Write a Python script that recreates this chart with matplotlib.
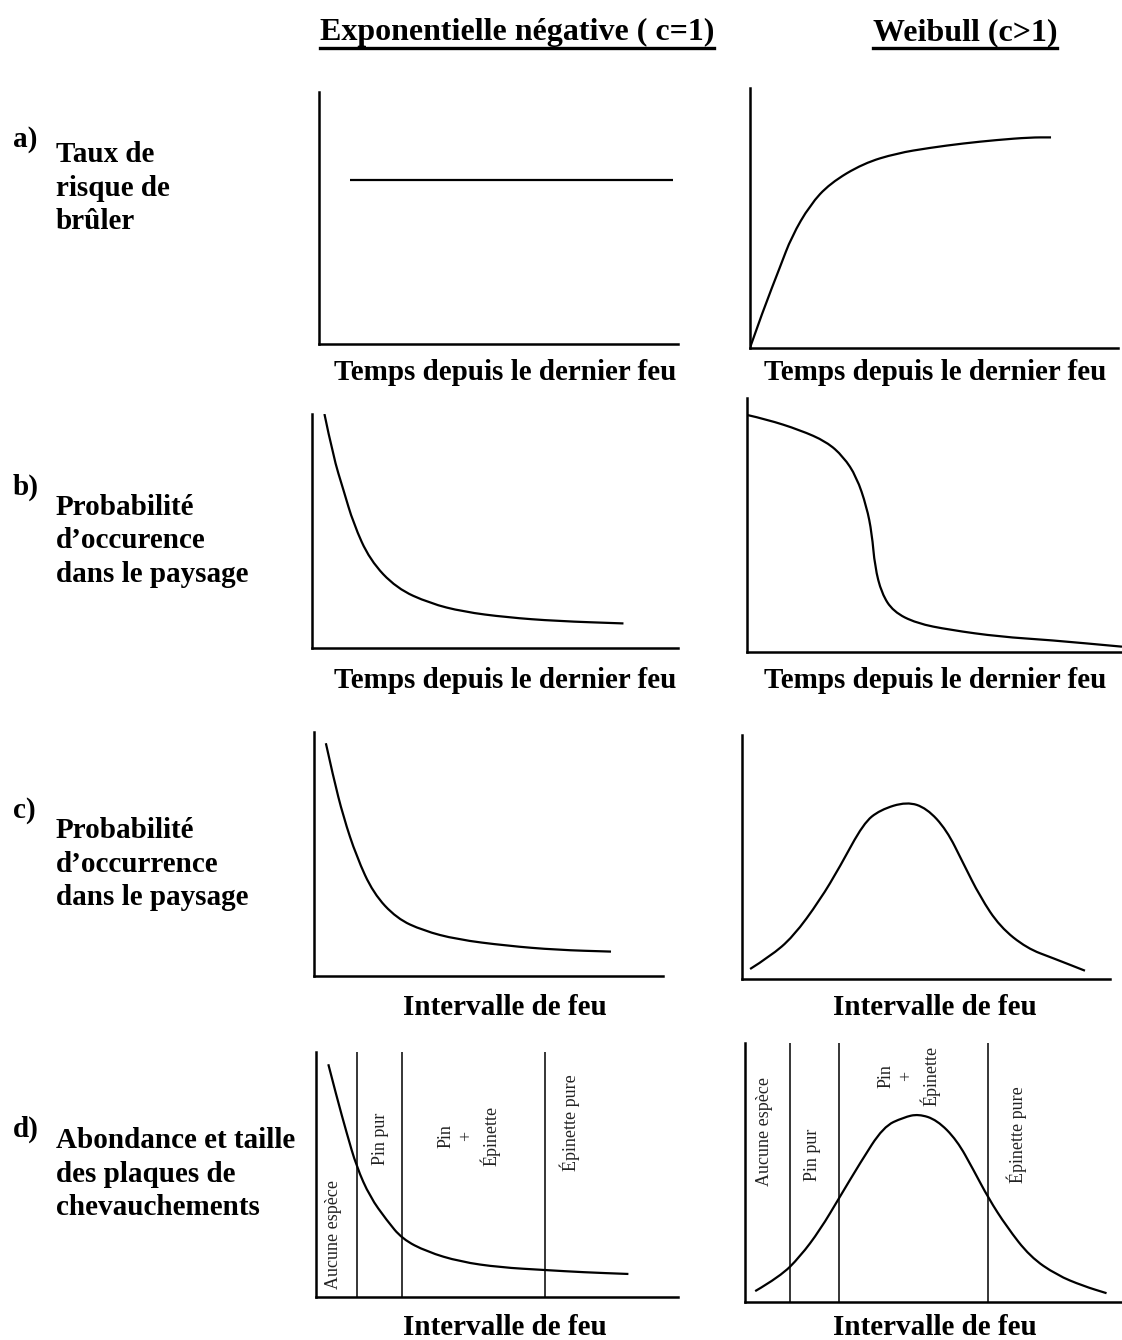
import matplotlib
matplotlib.use("Agg")
import matplotlib.pyplot as plt
from matplotlib.lines import Line2D
from matplotlib.path import Path
from matplotlib.patches import PathPatch

# Figure de 1122 x 1340 pixels
W, H = 1122, 1340
DPI = 100

plt.rcParams['font.family'] = ['Liberation Serif', 'DejaVu Serif']

# ---------------- données (unités arbitraires, 0-100) ----------------
# a) taux de risque de brûler
a_exp_x = [8.6, 98.6]
a_exp_y = [65.1, 65.1]
a_wei_x = [0.0, 3.6, 8.2, 11.3, 16.3, 21.7, 30.8, 39.9, 48.9, 58.0, 67.0, 76.1, 81.8]
a_wei_y = [0.1, 14.6, 31.3, 42.8, 55.0, 63.3, 71.0, 74.9, 77.0, 78.7, 80.0, 81.0, 81.0]

# b) probabilité d'occurence selon le temps depuis le dernier feu
b_exp_x = [3.4, 5.8, 8.6, 11.3, 15.8, 23.1, 32.2, 41.3, 53.2, 66.9, 85.1]
b_exp_y = [100.0, 81.8, 67.5, 53.3, 37.6, 25.5, 19.1, 15.5, 13.1, 11.5, 10.5]
b_wei_x = [0.1, 5.2, 14.1, 21.2, 25.7, 29.2, 31.9, 33.3, 34.1, 35.9, 39.0, 45.2, 54.1, 67.5, 80.8, 100.0]
b_wei_y = [93.3, 91.6, 87.4, 82.8, 76.9, 69.0, 57.2, 46.7, 33.6, 23.1, 15.9, 11.3, 8.7, 6.0, 4.7, 2.1]

# c) probabilité d'occurrence selon l'intervalle de feu
c_exp_x = [3.4, 5.5, 8.4, 12.2, 17.0, 23.7, 31.3, 40.9, 55.2, 69.5, 85.1]
c_exp_y = [95.4, 81.7, 65.3, 48.9, 33.9, 23.6, 18.6, 15.0, 12.4, 10.7, 10.0]
c_wei_x = [2.2, 7.6, 13.9, 21.2, 26.6, 33.0, 37.5, 44.8, 50.2, 55.6, 60.1, 64.7, 70.1, 77.4, 84.6, 93.2]
c_wei_y = [4.1, 9.2, 17.3, 32.4, 46.0, 63.8, 69.3, 72.7, 70.0, 61.1, 47.5, 33.7, 21.4, 12.6, 8.5, 3.4]

# d) abondance et taille des plaques
d_exp_x = [3.4, 5.7, 8.5, 11.2, 14.9, 19.5, 23.8, 30.6, 39.8, 50.8, 63.3, 73.8, 86.3]
d_exp_y = [95.0, 81.8, 66.8, 53.2, 40.9, 31.4, 23.7, 18.5, 14.4, 12.1, 11.0, 10.1, 9.4]
d_wei_x = [2.7, 9.3, 14.6, 19.9, 25.2, 30.5, 36.7, 42.1, 46.0, 50.9, 56.2, 60.6, 64.6, 69.4, 75.6, 82.7, 89.7, 95.9]
d_wei_y = [4.2, 9.8, 17.5, 27.8, 40.7, 53.6, 67.7, 71.3, 72.6, 70.3, 62.5, 51.0, 40.0, 29.1, 17.5, 10.4, 6.2, 3.4]
d_exp_limites = [11.3, 23.8, 63.3]
d_wei_limites = [11.9, 24.9, 64.5]
zones = ['Aucune espèce', 'Pin pur', 'Pin\n+\nÉpinette', 'Épinette pure']

titres_colonnes = ['Exponentielle négative ( c=1)', 'Weibull (c>1)']
lettres = ['a)', 'b)', 'c)', 'd)']
etiquettes = [
    ['Taux de', 'risque de', 'brûler'],
    ['Probabilité', 'd\u2019occurence', 'dans le paysage'],
    ['Probabilité', 'd\u2019occurrence', 'dans le paysage'],
    ['Abondance et taille', 'des plaques de', 'chevauchements'],
]
axes_x = ['Temps depuis le dernier feu', 'Temps depuis le dernier feu',
          'Intervalle de feu', 'Intervalle de feu']

fig = plt.figure(figsize=(W / DPI, H / DPI), dpi=DPI)
fig.patch.set_facecolor('white')

# calque en pixels pour les textes
ov = fig.add_axes([0, 0, 1, 1])
ov.set_xlim(0, W)
ov.set_ylim(H, 0)
ov.axis('off')


def panneau(gauche, haut, droite, bas):
    ax = fig.add_axes([gauche / W, 1 - bas / H, (droite - gauche) / W, (bas - haut) / H])
    ax.set_xlim(0, 100)
    ax.set_ylim(0, 100)
    ax.spines['top'].set_visible(False)
    ax.spines['right'].set_visible(False)
    ax.spines['left'].set_linewidth(1.8)
    ax.spines['bottom'].set_linewidth(1.8)
    ax.set_xticks([])
    ax.set_yticks([])
    ax.patch.set_alpha(0)
    return ax


def courbe(ax, xs, ys, clip=True):
    # trace lissé : bézier quadratique passant par les milieux des segments
    pts = list(zip(xs, ys))
    verts = [pts[0]]
    codes = [Path.MOVETO]
    for i in range(1, len(pts) - 1):
        milieu = ((pts[i][0] + pts[i + 1][0]) / 2, (pts[i][1] + pts[i + 1][1]) / 2)
        verts += [pts[i], milieu]
        codes += [Path.CURVE3, Path.CURVE3]
    verts.append(pts[-1])
    codes.append(Path.LINETO)
    ax.add_patch(PathPatch(Path(verts, codes), fill=False, edgecolor='black',
                           lw=1.6, capstyle='butt', joinstyle='round', clip_on=clip))


# ---- a) ----
ax = panneau(319, 92, 678, 344)
ax.plot(a_exp_x, a_exp_y, color='black', lw=1.6, solid_capstyle='butt')
ax = panneau(750, 88, 1118, 348)
courbe(ax, a_wei_x, a_wei_y)

# ---- b) ----
ax = panneau(312, 414, 678, 648)
courbe(ax, b_exp_x, b_exp_y)
ax = panneau(747, 398, 1122, 652)
courbe(ax, b_wei_x, b_wei_y, clip=False)

# ---- c) ----
ax = panneau(314, 732, 663, 976)
courbe(ax, c_exp_x, c_exp_y)
ax = panneau(742, 735, 1110, 979)
courbe(ax, c_wei_x, c_wei_y)

# ---- d) ----
texte_zone = dict(rotation=90, ha='center', va='center', multialignment='center',
                  fontsize=13, color='#222222', linespacing=1.3)
ax = panneau(316, 1052, 678, 1297)
courbe(ax, d_exp_x, d_exp_y)
for v in d_exp_limites:
    ax.axvline(v, color='black', lw=1.1)
ax.text(4.7, 25.7, zones[0], **texte_zone)
ax.text(17.7, 64.5, zones[1], **texte_zone)
ax.text(42.3, 65.7, zones[2], **texte_zone)
ax.text(70.2, 71.0, zones[3], **texte_zone)

ax = panneau(745, 1043, 1122, 1302)
courbe(ax, d_wei_x, d_wei_y)
for v in d_wei_limites:
    ax.axvline(v, color='black', lw=1.1)
ax.text(5.3, 66.0, zones[0], **texte_zone)
ax.text(18.0, 56.8, zones[1], **texte_zone)
ax.text(43.5, 87.3, zones[2], **texte_zone)
ax.text(72.1, 64.5, zones[3], **texte_zone)

# ---- textes ----
gras = dict(fontweight='bold', color='black')

titres = []
for titre, cx in zip(titres_colonnes, [517, 965]):
    titres.append(ov.text(cx, 40, titre, ha='center', va='baseline', fontsize=23, **gras))

# titres des axes x
bases_x = [380, 688, 1015, 1335]
for i, lab in enumerate(axes_x):
    ov.text(505, bases_x[i], lab, ha='center', va='baseline', fontsize=21, **gras)
    ov.text(935, bases_x[i], lab, ha='center', va='baseline', fontsize=21, **gras)

# étiquettes des lignes
bases_lettre = [147, 495, 818, 1137]
bases_ligne = [162, 515, 838, 1148]
for i in range(4):
    ov.text(13, bases_lettre[i], lettres[i], ha='left', va='baseline', fontsize=21, **gras)
    for j, ligne in enumerate(etiquettes[i]):
        ov.text(56, bases_ligne[i] + 33.5 * j, ligne, ha='left', va='baseline', fontsize=21, **gras)

# soulignement des titres de colonnes
fig.canvas.draw()
inv = fig.transFigure.inverted()
for t in titres:
    bb = t.get_window_extent()
    (x0, y0), (x1, _) = inv.transform([(bb.x0, bb.y0 - 1), (bb.x1, bb.y0 - 1)])
    fig.add_artist(Line2D([x0, x1], [y0, y0], transform=fig.transFigure, color='black', lw=2.4))

fig.savefig('out.png', dpi=DPI, facecolor='white')
